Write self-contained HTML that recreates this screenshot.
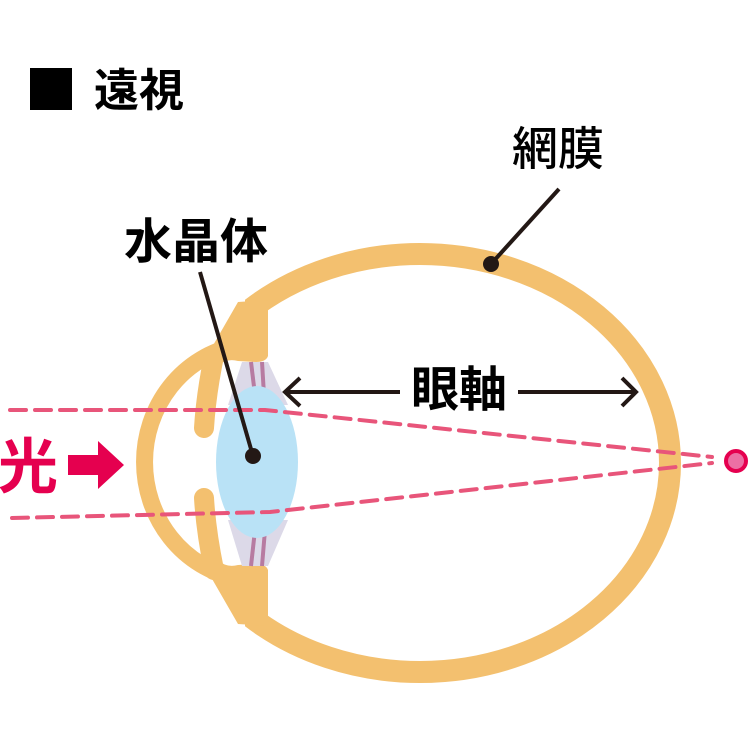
<!DOCTYPE html>
<html><head><meta charset="utf-8"><style>
html,body{margin:0;padding:0;background:#fff;}
svg{display:block;}
text{font-family:"Liberation Sans","Noto Sans CJK JP",sans-serif;font-weight:bold;}
</style></head><body>
<svg width="750" height="750" viewBox="0 0 750 750" xmlns="http://www.w3.org/2000/svg">
<defs>
<clipPath id="cr"><rect x="245" y="0" width="505" height="750"/></clipPath>
</defs>
<ellipse cx="420" cy="463" rx="250" ry="209" fill="none" stroke="#f3c06f" stroke-width="22" clip-path="url(#cr)"/>
<!-- cornea -->
<path d="M236 346 A112 118 0 0 0 236 578" fill="none" stroke="#f3c06f" stroke-width="17"/>
<path d="M232 352 Q245 330 262 314" fill="none" stroke="#f3c06f" stroke-width="17"/>
<path d="M232 572 Q245 594 262 610" fill="none" stroke="#f3c06f" stroke-width="17"/>
<!-- blobs -->
<path d="M268 300 L268 356 Q266 362 256 362 L238 361 Q226 358 218 366 L200 368 L238 302 Z" fill="#f3c06f"/>
<path d="M268 626 L268 570 Q266 564 256 564 L238 565 Q226 568 218 560 L200 558 L238 624 Z" fill="#f3c06f"/>
<!-- iris fingers -->
<path d="M214 356 Q206 395 204 428" fill="none" stroke="#f3c06f" stroke-width="20" stroke-linecap="round"/>
<path d="M214 570 Q206 531 204 498" fill="none" stroke="#f3c06f" stroke-width="20" stroke-linecap="round"/>
<!-- zonules -->
<polygon points="242,362 268,362 288,405 228,405" fill="#dcd9e8"/>
<polygon points="228,520 288,520 268,566 242,566" fill="#dcd9e8"/>
<line x1="251" y1="362" x2="255" y2="395" stroke="#b77ba1" stroke-width="4"/>
<line x1="262" y1="362" x2="264" y2="395" stroke="#b77ba1" stroke-width="4"/>
<line x1="251" y1="566" x2="255" y2="530" stroke="#b77ba1" stroke-width="4"/>
<line x1="262" y1="566" x2="265" y2="530" stroke="#b77ba1" stroke-width="4"/>
<ellipse cx="257" cy="462" rx="41" ry="76" fill="#b9e2f6"/>
<g stroke="#e8557a" stroke-width="4" stroke-dasharray="16 9" fill="none" stroke-linecap="round">
<polyline points="10,410 265,410 712,457"/>
<polyline points="12,518 270,512 712,463"/>
</g>
<circle cx="736" cy="461" r="10" fill="#ec6fa4" stroke="#e5004f" stroke-width="4"/>
<line x1="200" y1="272" x2="253" y2="456" stroke="#231815" stroke-width="4"/>
<circle cx="253" cy="456" r="8" fill="#231815"/>
<line x1="559" y1="189" x2="491" y2="264" stroke="#231815" stroke-width="4"/>
<circle cx="491" cy="264" r="8" fill="#231815"/>
<line x1="285" y1="392" x2="400" y2="392" stroke="#231815" stroke-width="4"/>
<polyline points="300,378 285,392 300,406" fill="none" stroke="#231815" stroke-width="4"/>
<line x1="518" y1="392" x2="636" y2="392" stroke="#231815" stroke-width="4"/>
<polyline points="622,378 636,392 622,406" fill="none" stroke="#231815" stroke-width="4"/>
<rect x="30" y="68" width="42" height="42" fill="#000"/>
<text x="94" y="106" font-size="45" fill="#000">遠視</text>
<text x="512" y="165" font-size="46" fill="#000" style="font-weight:500">網膜</text>
<text x="124" y="258" font-size="48" fill="#000">水晶体</text>
<text x="411" y="406" font-size="48" fill="#000">眼軸</text>
<text x="-2" y="488" font-size="60" fill="#e5004f">光</text>
<polygon points="68,455 98,455 98,441 124,465 98,489 98,475 68,475" fill="#e5004f"/>
</svg>
</body></html>
